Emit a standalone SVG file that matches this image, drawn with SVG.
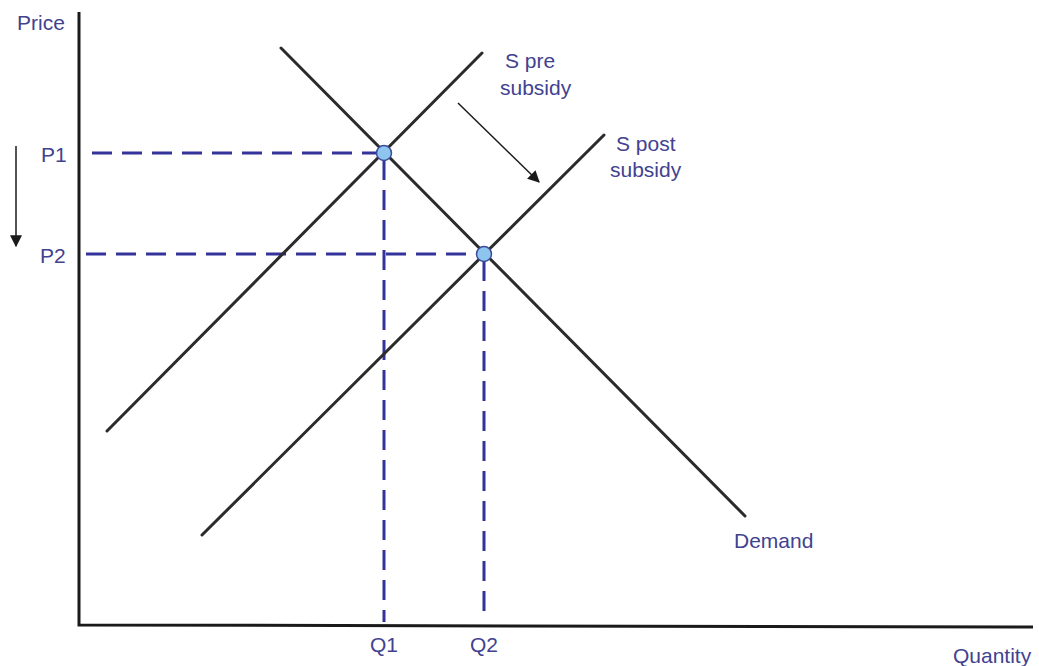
<svg xmlns="http://www.w3.org/2000/svg" width="1039" height="666" viewBox="0 0 1039 666">
<defs>
<style>
.axis{stroke:#1a1a1a;stroke-width:3;fill:none}
.curve{stroke:#2b2b2b;stroke-width:3;fill:none;stroke-linecap:round}
.dash{stroke:#33339a;stroke-width:3;fill:none;stroke-dasharray:20 10}
.pt{fill:#8ec5ef;stroke:#3b4b9b;stroke-width:1.5}
.lbl{font-family:"Liberation Sans",Arial,sans-serif;font-size:21px;fill:#42428f}
.arr{stroke:#1a1a1a;stroke-width:1.5;fill:none}
</style>
<marker id="ah2" viewBox="0 0 10 10" refX="9" refY="5" markerWidth="12" markerHeight="12" orient="auto" markerUnits="userSpaceOnUse">
<path d="M0,0 L10,5 L0,10 z" fill="#1a1a1a"/>
</marker>
</defs>
<rect width="1039" height="666" fill="#ffffff"/>
<g id="axes">
<polyline class="axis" points="79,12 79,625 1033,627"/>
</g>
<g id="connectors">
<line class="dash" x1="92" y1="153" x2="384" y2="153"/>
<line class="dash" x1="86" y1="254" x2="484" y2="254"/>
<line class="dash" x1="384" y1="160" x2="384" y2="622"/>
<line class="dash" x1="484" y1="261" x2="484" y2="618"/>
<line class="arr" x1="458" y1="103" x2="539" y2="182" marker-end="url(#ah2)"/>
<line class="arr" x1="16" y1="146" x2="16" y2="246" marker-end="url(#ah2)"/>
</g>
<g id="demand">
<line class="curve" x1="281" y1="48" x2="745" y2="516"/>
<text class="lbl" x="734" y="548">Demand</text>
</g>
<g id="s-pre">
<line class="curve" x1="107" y1="431" x2="482" y2="53"/>
<text class="lbl" x="505" y="68">S pre</text>
<text class="lbl" x="500" y="95">subsidy</text>
</g>
<g id="s-post">
<line class="curve" x1="202" y1="535" x2="604" y2="135"/>
<text class="lbl" x="616" y="151">S post</text>
<text class="lbl" x="610" y="177">subsidy</text>
</g>
<g id="eq1"><circle class="pt" cx="384" cy="153" r="7.5"/></g>
<g id="eq2"><circle class="pt" cx="484" cy="254" r="7.5"/></g>
<g id="labels">
<text class="lbl" x="17" y="30">Price</text>
<text class="lbl" x="41" y="162">P1</text>
<text class="lbl" x="40" y="263">P2</text>
<text class="lbl" x="384" y="652" text-anchor="middle">Q1</text>
<text class="lbl" x="484" y="652" text-anchor="middle">Q2</text>
<text class="lbl" x="953" y="663">Quantity</text>
</g>
</svg>
